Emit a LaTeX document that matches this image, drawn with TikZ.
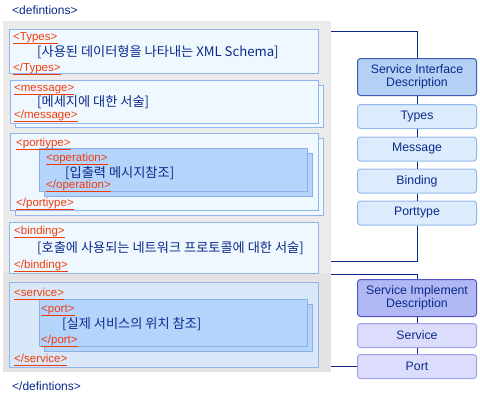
\documentclass[tikz,border=0pt]{standalone}
\usepackage{fontspec}
\setmainfont{Liberation Sans}
\newfontfamily\kr{Noto Sans CJK KR}
\definecolor{navyT}{HTML}{0C2A8C}
\definecolor{conn}{HTML}{0C2A8C}
\definecolor{tagc}{HTML}{F03C0C}
\definecolor{greyA}{HTML}{EBEBEB}
\definecolor{greyB}{HTML}{E3E3E3}
\definecolor{paleF}{HTML}{F0F8FF}
\definecolor{paleD}{HTML}{94B4EC}
\definecolor{svcF}{HTML}{D8E8F8}
\definecolor{opF}{HTML}{B4D4FC}
\definecolor{opD}{HTML}{8CB0E8}
\definecolor{sidF}{HTML}{B4D0F4}
\definecolor{sidD}{HTML}{3C5CB4}
\definecolor{itemF}{HTML}{DCECFC}
\definecolor{itemD}{HTML}{94B8EC}
\definecolor{impF}{HTML}{B0B8F4}
\definecolor{impD}{HTML}{5454C4}
\definecolor{svF}{HTML}{DCDCFC}
\definecolor{svD}{HTML}{A0A0EC}
\begin{document}
\begin{tikzpicture}[x=1pt,y=-1pt,
  tagtext/.style={anchor=base west, inner sep=0pt, text=tagc,
    font=\fontsize{11.5}{13}\selectfont,
    append after command={([yshift=-3.5pt]\tikzlastnode.base west) edge[draw=tagc, line width=1pt] ([yshift=-3.5pt]\tikzlastnode.base east)}},
  deftext/.style={anchor=base west, inner sep=0pt, text=navyT, font=\fontsize{12}{13}\selectfont},
  kortext/.style={anchor=base west, inner sep=0pt, text=navyT, font=\kr\fontsize{13.2}{15}\selectfont},
  palebox/.style={fill=paleF, draw=paleD, line width=1pt},
  svcbox/.style={fill=svcF, draw=paleD, line width=1pt},
  opbox/.style={fill=opF, draw=opD, line width=1pt},
  rbox/.style={draw, rounded corners=3pt, minimum width=119pt, minimum height=24pt, inner sep=0pt,
    text=navyT, font=\fontsize{12.3}{13}\selectfont, line width=1pt, align=center},
  sidbox/.style={rbox, fill=sidF, draw=sidD, minimum height=37pt},
  itembox/.style={rbox, fill=itemF, draw=itemD},
  impbox/.style={rbox, fill=impF, draw=impD, minimum height=37pt},
  svbox/.style={rbox, fill=svF, draw=svD},
  connline/.style={draw=conn, line width=1pt}
]
\useasboundingbox (0,0) rectangle (480,400);
\fill[white] (0,0) rectangle (480,400);
% grey background
\fill[greyA] (3,21) rectangle (331,273);
\fill[greyB] (3,273) rectangle (331,372);
% types
\draw[palebox] (9.5,29.5) rectangle (318.5,73.5);
% message
\draw[palebox] (15.5,85.5) rectangle (323.5,127.5);
\draw[palebox] (10.5,80.5) rectangle (318.5,123.5);
% porttype
\draw[palebox] (15.5,138.5) rectangle (323.5,215.5);
\draw[palebox] (10.5,133.5) rectangle (318.5,210.5);
\draw[opbox] (44.5,153.5) rectangle (312.5,196.5);
\draw[opbox] (39.5,148.5) rectangle (307.5,191.5);
% binding
\draw[palebox] (9.5,222.5) rectangle (318.5,273.5);
% service
\draw[svcbox] (9.5,282.5) rectangle (318.5,367.5);
\draw[opbox] (44.5,304.5) rectangle (312.5,351.5);
\draw[opbox] (39.5,299.5) rectangle (307.5,346.5);

% texts
\node[deftext] (d1) at (12,14) {\textless defintions\textgreater};
\node[deftext] (d2) at (12,390) {\textless/defintions\textgreater};

\node[tagtext] (t1) at (13,40) {\textless Types\textgreater};
\node[kortext] (k1) at (37,56) {[사용된 데이터형을 나타내는 XML Schema]};
\node[tagtext] (t2) at (13,71) {\textless/Types\textgreater};

\node[tagtext] (m1) at (14,91) {\textless message\textgreater};
\node[kortext] (k2) at (37,106) {[메세지에 대한 서술]};
\node[tagtext] (m2) at (14,118) {\textless/message\textgreater};

\node[tagtext] (p1) at (16,146) {\textless portiype\textgreater};
\node[tagtext] (o1) at (46,161) {\textless operation\textgreater};
\node[kortext] (k3) at (65,177) {[입출력 메시지참조]};
\node[tagtext] (o2) at (46,188) {\textless/operation\textgreater};
\node[tagtext] (p2) at (16,206) {\textless/portiype\textgreater};

\node[tagtext] (b1) at (14,234) {\textless binding\textgreater};
\node[kortext] (k4) at (37,252) {[호출에 사용되는 네트워크 프로토콜에 대한 서술]};
\node[tagtext] (b2) at (14,268) {\textless/binding\textgreater};

\node[tagtext] (s1) at (14,296) {\textless service\textgreater};
\node[tagtext] (q1) at (41,312) {\textless port\textgreater};
\node[kortext] (k5) at (62,328) {[실제 서비스의 위치 참조]};
\node[tagtext] (q2) at (41,343) {\textless/port\textgreater};
\node[tagtext] (s2) at (14,362) {\textless/service\textgreater};

% right column
\node[sidbox] (sid) at (417,77) {Service Interface\\Description};
\node[itembox] (types) at (417,116.5) {Types};
\node[itembox] (message) at (417,149) {Message};
\node[itembox] (binding) at (417,181) {Binding};
\node[itembox] (porttype) at (417,213) {Porttype};
\node[impbox] (impl) at (417,298) {Service Implement\\Description};
\node[svbox] (service) at (417,335.5) {Service};
\node[svbox] (port) at (417,366.5) {Port};

% connectors
\coordinate (gTop) at (331,31.5);
\coordinate (gBind) at (331,261.5);
\coordinate (gImpl) at (331,274.5);
\coordinate (gPort) at (331,366.5);
\draw[connline] (gTop) -| (sid.north);
\draw[connline] (sid.south) -- (types.north);
\draw[connline] (types.south) -- (message.north);
\draw[connline] (message.south) -- (binding.north);
\draw[connline] (binding.south) -- (porttype.north);
\draw[connline] (porttype.south) |- (gBind);
\draw[connline] (gImpl) -| (impl.north);
\draw[connline] (impl.south) -- (service.north);
\draw[connline] (service.south) -- (port.north);
\draw[connline] (port.west) -- (gPort);
\end{tikzpicture}
\end{document}
